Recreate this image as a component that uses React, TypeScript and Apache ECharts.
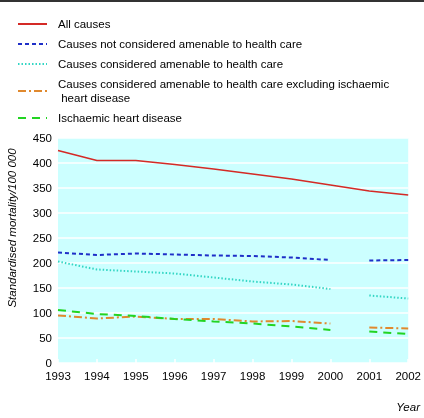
import React, { useEffect, useRef } from "react";
import * as echarts from "echarts";

const years = ["1993", "1994", "1995", "1996", "1997", "1998", "1999", "2000", "2001", "2002"];
const allCauses = [425, 405, 405, 397, 388, 378, 368, 356, 344, 336];
const notAmenable = [221, 216, 219, 217, 215, 214, 211, 206, 205, 206];
const amenable = [203, 187, 183, 179, 171, 163, 157, 148, 135, 129];
const amenableExclIHD = [95, 89, 93, 88, 88, 83, 84, 79, 71, 69];
const ihd = [106, 98, 94, 88, 83, 79, 73, 66, 63, 58];
const yTicks = [0, 50, 100, 150, 200, 250, 300, 350, 400, 450];

const names = [
  "All causes",
  "Causes not considered amenable to health care",
  "Causes considered amenable to health care",
  "Causes considered amenable to health care excluding ischaemic\n heart disease",
  "Ischaemic heart disease",
];

const FONT = "'Liberation Sans', Arial, sans-serif";

function part(values: number[], from: number, to: number) {
  return values.map((v, i) => (i >= from && i <= to ? v : null));
}

export default function App() {
  const ref = useRef<HTMLDivElement>(null);
  useEffect(() => {
    if (!ref.current) return;
    const chart = echarts.init(ref.current, undefined, { renderer: "svg" });
    const styles = [
      { color: "#d42a26", width: 1.6, type: "solid" as any },
      { color: "#1f2fc8", width: 2, type: [4, 3] as any },
      { color: "#33d6c4", width: 2, type: [1.5, 2] as any },
      { color: "#e0892e", width: 2, type: [8, 3, 2, 3] as any },
      { color: "#22d422", width: 2, type: [8, 6] as any },
    ];
    const gapped = [notAmenable, amenable, amenableExclIHD, ihd];
    const series: any[] = [
      {
        name: names[0],
        type: "line",
        data: allCauses,
        symbol: "none",
        lineStyle: styles[0],
        itemStyle: { color: styles[0].color },
      },
    ];
    gapped.forEach((vals, k) => {
      const st = styles[k + 1];
      [part(vals, 0, 7), part(vals, 8, 9)].forEach((d) => {
        series.push({
          name: names[k + 1],
          type: "line",
          data: d,
          symbol: "none",
          connectNulls: false,
          lineStyle: st,
          itemStyle: { color: st.color },
        });
      });
    });
    chart.setOption({
      animation: false,
      textStyle: { fontFamily: FONT },
      legend: {
        data: names,
        orient: "vertical",
        left: 12,
        top: 12,
        itemWidth: 29,
        itemHeight: 14,
        itemGap: 6,
        selectedMode: false,
        itemStyle: { opacity: 0 },
        textStyle: { fontFamily: FONT, fontSize: 11.5, color: "#000", padding: [0, 0, 0, 6], lineHeight: 14 },
      },
      grid: {
        left: 58,
        right: 15,
        top: 138,
        bottom: 55,
        show: true,
        backgroundColor: "#ccffff",
        borderWidth: 0,
      },
      xAxis: {
        type: "category",
        data: years,
        boundaryGap: false,
        axisLine: { show: false },
        axisTick: { show: true, inside: true, length: 4, lineStyle: { color: "#ffffff", width: 1.5 } },
        axisLabel: { fontFamily: FONT, fontSize: 11.5, color: "#000", margin: 7 },
        splitLine: { show: false },
      },
      yAxis: {
        type: "value",
        min: yTicks[0],
        max: yTicks[yTicks.length - 1],
        interval: 50,
        axisLine: { show: false },
        axisTick: { show: false },
        axisLabel: { fontFamily: FONT, fontSize: 11.5, color: "#000", margin: 6 },
        splitLine: { show: true, lineStyle: { color: "#ffffff", width: 1.5 } },
      },
      graphic: [
        {
          type: "line",
          shape: { x1: 0, y1: 1, x2: 424, y2: 1 },
          style: { stroke: "#333333", lineWidth: 2 },
        },
        {
          type: "text",
          x: 12,
          y: 228,
          rotation: Math.PI / 2,
          style: {
            text: "Standardised mortality/100 000",
            fontFamily: FONT,
            fontSize: 11.5,
            fontStyle: "italic",
            fill: "#000",
            align: "center",
            verticalAlign: "middle",
          },
        },
        {
          type: "text",
          x: 420,
          y: 407,
          style: {
            text: "Year",
            fontFamily: FONT,
            fontSize: 11.5,
            fontStyle: "italic",
            fill: "#000",
            align: "right",
            verticalAlign: "middle",
          },
        },
      ],
      series,
    });
    return () => chart.dispose();
  }, []);
  return <div ref={ref} style={{ width: 424, height: 418, position: "fixed", left: 0, top: 0 }} />;
}
